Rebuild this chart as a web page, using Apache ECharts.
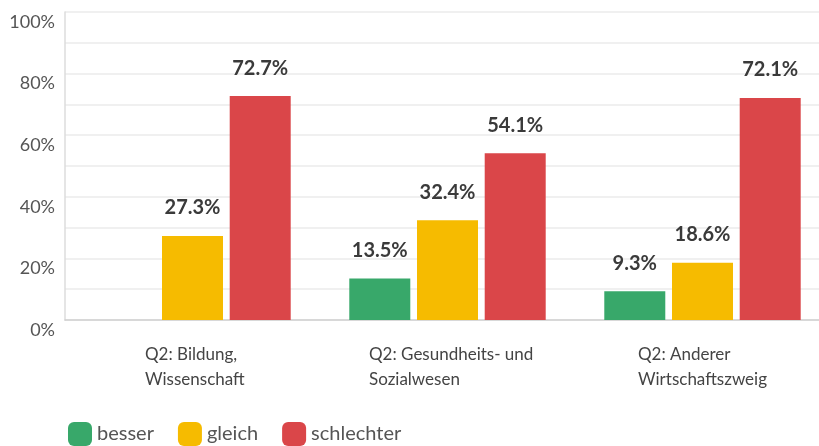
<!DOCTYPE html>
<html>
<head>
<meta charset="utf-8">
<script src="https://cdn.jsdelivr.net/npm/echarts@6/dist/echarts.min.js"></script>
<style>
  html, body { margin: 0; padding: 0; background: #fff; }
  #chart { width: 819px; height: 446px; }
</style>
</head>
<body>
<div id="chart"></div>
<script>
const categories = ["Q2: Bildung,\nWissenschaft", "Q2: Gesundheits- und\nSozialwesen", "Q2: Anderer\nWirtschaftszweig"];
const seriesNames = ["besser", "gleich", "schlechter"];
const besser = [null, 13.5, 9.3];
const gleich = [27.3, 32.4, 18.6];
const schlechter = [72.7, 54.1, 72.1];
const yTicks = [0, 20, 40, 60, 80, 100];

const colors = ["#38a86a", "#f6bb00", "#da4649"];
const font = "Lato, 'Noto Sans', sans-serif";
// label box widths so that the left-aligned lines start where the reference puts them
const labelWidths = [95, 157, 129];

function barSeries(name, data, color) {
  return {
    name,
    type: "bar",
    data,
    barWidth: 61,
    barGap: "11%",
    itemStyle: { color },
    label: {
      show: true,
      position: "top",
      distance: 18,
      formatter: (p) => (p.value == null ? "" : p.value.toFixed(1) + "%"),
      color: "#3a3a3a",
      fontFamily: font,
      fontWeight: "bold",
      fontSize: 20,
    },
  };
}

const chart = echarts.init(document.getElementById("chart"));
chart.setOption({
  animation: false,
  grid: { left: 65, width: 765, top: 12, bottom: 126, containLabel: false, outerBoundsMode: "none" },
  legend: {
    left: 63,
    top: 417,
    icon: "roundRect",
    itemWidth: 24,
    itemHeight: 24,
    itemGap: 24,
    data: seriesNames,
    textStyle: { color: "#555", fontSize: 20, fontFamily: font },
  },
  xAxis: {
    type: "category",
    data: categories,
    axisLine: { lineStyle: { color: "#cfcfcf", width: 1.5 } },
    axisTick: { show: false },
    axisLabel: {
      margin: 22,
      interval: 0,
      formatter: (v, i) => v.split("\n").map((s) => `{w${i}|${s}}`).join("\n"),
      rich: Object.fromEntries(labelWidths.map((w, i) => [
        "w" + i,
        { width: w, align: "left", color: "#444", fontSize: 17, lineHeight: 25, fontFamily: font },
      ])),
    },
  },
  yAxis: {
    type: "value",
    min: yTicks[0],
    max: yTicks[yTicks.length - 1],
    interval: 20,
    axisLine: { show: true, lineStyle: { color: "#dcdcdc", width: 1.5 } },
    axisTick: { show: false },
    splitLine: { lineStyle: { color: "#ebebeb", width: 1.5 } },
    minorTick: { show: false, splitNumber: 2 },
    minorSplitLine: { show: true, lineStyle: { color: "#ebebeb", width: 1.5 } },
    axisLabel: {
      margin: 10,
      color: "#555",
      fontSize: 18,
      fontFamily: font,
      verticalAlign: "top",
      padding: [1, 0, 0, 0],
      formatter: "{value}%",
    },
  },
  series: [
    barSeries(seriesNames[0], besser, colors[0]),
    barSeries(seriesNames[1], gleich, colors[1]),
    barSeries(seriesNames[2], schlechter, colors[2]),
  ],
});
</script>
</body>
</html>
